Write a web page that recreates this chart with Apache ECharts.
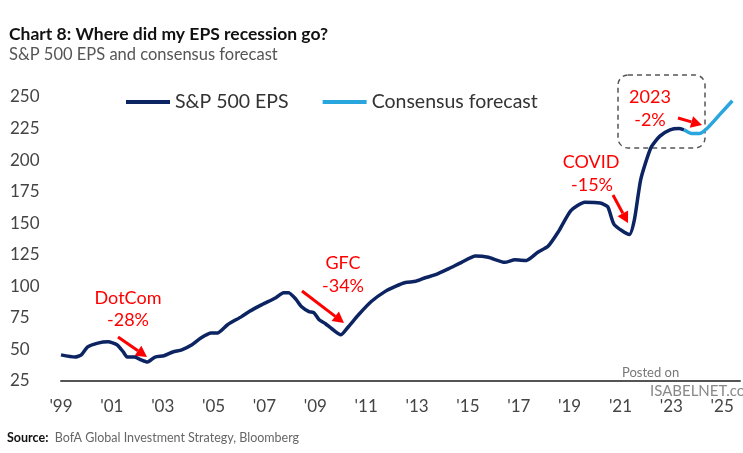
<!DOCTYPE html>
<html>
<head>
<meta charset="utf-8">
<script src="https://cdn.jsdelivr.net/npm/echarts@6/dist/echarts.min.js"></script>
<style>
  html, body { margin: 0; padding: 0; background: #fff; }
  #chart { width: 743px; height: 453px; }
</style>
</head>
<body>
<div id="chart"></div>
<script>
// S&P 500 EPS (x = fractional year)
const epsYears = [1999.0, 1999.55, 1999.8, 2000.05, 2000.45, 2000.85, 2001.2, 2001.45, 2001.6, 2001.9,
  2002.15, 2002.4, 2002.7, 2003.05, 2003.4, 2003.75, 2004.15, 2004.5, 2004.9, 2005.15,
  2005.55, 2006.1, 2006.4, 2006.9, 2007.45, 2007.75, 2007.95, 2008.25, 2008.45, 2008.75,
  2008.95, 2009.15, 2009.4, 2009.65, 2010.0, 2010.3, 2010.7, 2011.2, 2011.75, 2012.15,
  2012.55, 2012.95, 2013.35, 2013.7, 2014.25, 2014.75, 2015.3, 2015.8, 2016.45, 2016.85,
  2017.3, 2017.75, 2018.15, 2018.55, 2019.05, 2019.6, 2020.2, 2020.5, 2020.75, 2021.35,
  2021.55, 2021.8, 2022.2, 2022.55, 2022.95, 2023.3, 2023.5];
const epsValues = [45.7, 44, 45.7, 52, 55, 56, 53.7, 48, 44, 44,
  41.7, 40, 44, 45, 48, 49.7, 53.7, 59, 63, 63,
  69.6, 76, 80, 85.5, 91, 95, 95, 89.5, 84, 80,
  79, 73.5, 70.4, 66.4, 61.6, 68, 77.5, 88, 96, 100,
  103, 104, 107, 109, 114, 119, 124, 123, 119, 121,
  120.5, 127, 131.7, 143, 160, 166.7, 166, 163, 149, 141,
  153, 185, 210, 219, 224, 225, 224];
// consensus forecast
const fcYears = [2023.5, 2023.8, 2024.1, 2024.4, 2024.9, 2025.4];
const fcValues = [224, 221, 221, 225, 236, 247];

const yMin = 25, yMax = 250, yStep = 25;
const xMin = 1999, xMax = 2025.7, xStep = 2;

const pair = (xs, ys) => xs.map((x, i) => [x, ys[i]]);

const red = '#ff0000';
const font = 'Lato, "Noto Sans", sans-serif';

function arrow(x1, y1, x2, y2) {
  const a = Math.atan2(y2 - y1, x2 - x1), h = 11, w = 6;
  const bx = x2 - h * Math.cos(a), by = y2 - h * Math.sin(a);
  return {
    type: 'group',
    children: [
      {type: 'line', shape: {x1: x1, y1: y1, x2: bx, y2: by}, style: {stroke: red, lineWidth: 3}},
      {type: 'polygon', shape: {points: [[x2, y2], [bx + w * Math.sin(a), by - w * Math.cos(a)], [bx - w * Math.sin(a), by + w * Math.cos(a)]]}, style: {fill: red}}
    ]
  };
}

function note(x, y, txt) {
  return {
    type: 'text', x: x, y: y,
    style: {text: txt, fill: red, font: '18px ' + font, textAlign: 'center', textVerticalAlign: 'middle'}
  };
}

const chart = echarts.init(document.getElementById('chart'));
chart.setOption({
  animation: false,
  title: {
    text: 'Chart 8: Where did my EPS recession go?',
    subtext: 'S&P 500 EPS and consensus forecast',
    left: 4,
    top: 20,
    itemGap: 3,
    textStyle: {fontFamily: font, fontSize: 17.5, fontWeight: 'bold', color: '#111'},
    subtextStyle: {fontFamily: font, fontSize: 16.5, color: '#555'}
  },
  legend: {
    left: 121,
    top: 87,
    itemWidth: 44,
    itemHeight: 4,
    itemGap: 34,
    icon: 'rect',
    textStyle: {fontFamily: font, fontSize: 19.5, color: '#333'},
    data: ['S&P 500 EPS', 'Consensus forecast']
  },
  grid: {left: 61, right: 0, top: 97, bottom: 72},
  xAxis: {
    type: 'value',
    min: xMin,
    max: xMax,
    interval: xStep,
    axisLine: {show: true, lineStyle: {color: '#555', width: 2}},
    axisTick: {show: false},
    splitLine: {show: false},
    axisLabel: {
      margin: 17,
      fontFamily: font,
      fontSize: 17,
      color: '#444',
      formatter: v => (Number.isInteger(v) ? "'" + String(v).slice(2) : '')
    }
  },
  yAxis: {
    type: 'value',
    min: yMin,
    max: yMax,
    interval: yStep,
    axisLine: {show: false},
    axisTick: {show: false},
    splitLine: {show: false},
    axisLabel: {margin: 51, align: 'left', fontFamily: font, fontSize: 17, color: '#444'}
  },
  series: [
    {
      name: 'S&P 500 EPS',
      type: 'line',
      data: pair(epsYears, epsValues),
      showSymbol: false,
      smooth: 0.2,
      color: '#0d2463',
      lineStyle: {width: 3.5, color: '#0d2463'}
    },
    {
      name: 'Consensus forecast',
      type: 'line',
      data: pair(fcYears, fcValues),
      showSymbol: false,
      smooth: 0.2,
      color: '#2aa6df',
      lineStyle: {width: 3.5, color: '#2aa6df'}
    }
  ],
  graphic: [
    note(128, 298, 'DotCom'), note(128, 320, '-28%'), arrow(118, 337, 147, 357),
    note(343, 263, 'GFC'), note(343, 286, '-34%'), arrow(302, 291, 344, 323),
    note(591, 162, 'COVID'), note(592, 185, '-15%'), arrow(613, 195, 628, 223),
    note(650, 97, '2023'), note(650, 120, '-2%'), arrow(678, 118, 702, 125),
    {
      type: 'rect',
      shape: {x: 618, y: 75, width: 87, height: 73, r: 10},
      style: {fill: 'none', stroke: '#555', lineWidth: 1.5, lineDash: [5, 4]}
    },
    {type: 'text', x: 622, y: 366, style: {text: 'Posted on', fill: '#777', font: '13px ' + font}},
    {type: 'text', x: 650, y: 384, style: {text: 'ISABELNET.com', fill: '#888', font: '15px ' + font}},
    {
      type: 'text', x: 7, y: 431,
      style: {
        text: '{b|Source:}  BofA Global Investment Strategy, Bloomberg',
        fill: '#666',
        font: '12.5px ' + font,
        rich: {b: {fontWeight: 'bold', fill: '#111', fontSize: 12.5, fontFamily: font}}
      }
    }
  ]
});
</script>
</body>
</html>
